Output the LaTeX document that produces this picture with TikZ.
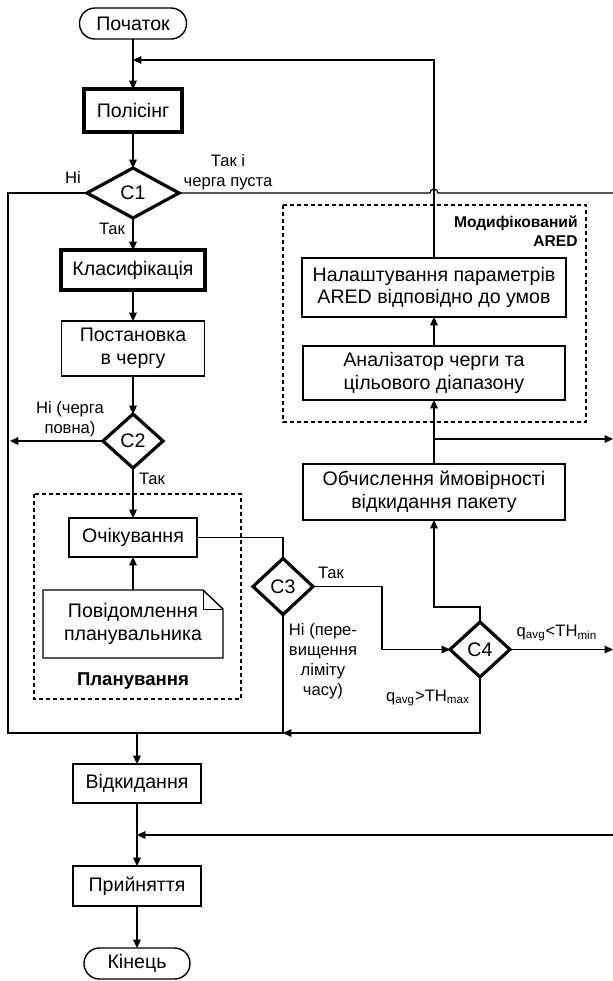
\documentclass[tikz,border=0pt]{standalone}
\usepackage{fontspec}
\setmainfont{Liberation Sans}
\usetikzlibrary{shapes.geometric,arrows.meta}
\tikzset{
  base/.style={font=\fontsize{9.8}{11.3}\selectfont, align=center, inner sep=0pt, outer sep=0pt},
  box/.style={base, draw, line width=0.7pt, rectangle},
  thickbox/.style={box, line width=1.6pt},
  term/.style={box, rounded corners=7.7pt},
  dec/.style={base, draw, diamond, line width=1.6pt},
  lab/.style={font=\fontsize{8.3}{9.9}\selectfont, align=center, inner sep=0pt},
  conn/.style={line width=0.8pt},
  thin/.style={line width=0.6pt},
  arr/.style={conn, -{Triangle[length=4.2pt,width=3.8pt]}},
  grp/.style={draw, line width=1.1pt, dash pattern=on 2.2pt off 1.3pt},
}
\begin{document}
\begin{tikzpicture}[x=0.5pt,y=-0.5pt]
\useasboundingbox (0,0) rectangle (613,981);

% group boxes
\draw[grp] (34,494) rectangle (241,699);
\draw[grp] (283,205) rectangle (586,422);

% nodes
\node[term, minimum width=53.5pt, minimum height=15.5pt] (start) at (133,23.5) {Початок};
\node[thickbox, minimum width=49pt, minimum height=21.5pt] (polic) at (133,110.5) {Полісінг};
\node[dec, minimum width=46pt, minimum height=25pt] (C1) at (133,193) {C1};
\node[thickbox, minimum width=72pt, minimum height=20pt] (klas) at (133,270) {Класифікація};
\node[box, minimum width=71.5pt, minimum height=27.5pt] (post) at (133,348.5) {Постановка\\в чергу};
\node[dec, minimum width=30pt, minimum height=27pt] (C2) at (133,441) {C2};
\node[box, minimum width=64pt, minimum height=19.5pt] (och) at (133,537.5) {Очікування};
\node[base, minimum width=90pt, minimum height=34pt] (pov) at (133,624) {Повідомлення\\планувальника};
\node[base, font=\fontsize{9.3}{11}\selectfont\bfseries] (planlab) at (133,681) {Планування};
\node[dec, minimum width=30pt, minimum height=28pt] (C3) at (283,586.5) {C3};
\node[dec, minimum width=30pt, minimum height=27.5pt] (C4) at (480,649.5) {C4};
\node[box, minimum width=132pt, minimum height=29.5pt] (nal) at (434,287.5) {Налаштування параметрів\\ARED відповідно до умов};
\node[box, minimum width=131pt, minimum height=27pt] (anal) at (434,373) {Аналізатор черги та\\цільового діапазону};
\node[box, minimum width=131pt, minimum height=28pt] (obch) at (434,492) {Обчислення ймовірності\\відкидання пакету};
\node[box, minimum width=64pt, minimum height=19.5pt] (vid) at (137,783.5) {Відкидання};
\node[box, minimum width=64pt, minimum height=20pt] (pryn) at (137,886) {Прийняття};
\node[term, minimum width=53pt, minimum height=15.5pt] (kin) at (137,963.5) {Кінець};

% document outline
\draw[line width=0.7pt] (pov.south west) -- (pov.north west) -- ([xshift=-10pt]pov.north east)
  -- ([yshift=-9.5pt]pov.north east) -- (pov.south east) -- cycle;
\draw[line width=0.5pt] ([xshift=-10pt]pov.north east) |- ([yshift=-9.5pt]pov.north east);

% labels
\node[lab] (l1) at (73,177) {Ні};
\node[lab] (l2) at (228,172) {Так і\\черга пуста};
\node[lab] (l3) at (112,229) {Так};
\node[lab] (l4) at (70,419) {Ні (черга\\повна)};
\node[lab] (l5) at (152,479) {Так};
\node[lab] (l6) at (331,573) {Так};
\node[lab] (l7) at (323,661) {Ні (пере-\\вищення\\ліміту\\часу)};
\node[lab] (l8) at (557,633) {q\textsubscript{avg}<TH\textsubscript{min}};
\node[lab] (l9) at (428,698) {q\textsubscript{avg}>TH\textsubscript{max}};
\node[lab, font=\fontsize{7.8}{9.5}\selectfont\bfseries, align=right, anchor=east] (l10) at (578,231.5) {Модифікований\\ARED};

% coordinates
\coordinate (j1) at (133,60);
\coordinate (e1) at (613,193);
\coordinate (b1) at (434,439);
\coordinate (e2) at (613,439);
\coordinate (e3) at (613,649.5);
\coordinate (m1) at (137,733);
\coordinate (c3b) at (283,733);
\coordinate (e4) at (613,835);
\coordinate (m2) at (137,835);
\coordinate (c2w) at (10,441);

% connectors
\draw[arr] (start) -- (polic);
\draw[arr, thin] (nal.north) -- (434,60) -- (j1);
\draw[arr] (polic) -- (C1);
\draw[thin] (C1.east) -- (430,193) arc (180:360:4) -- (e1);
\draw[arr] (C1) -- (klas);
\draw[arr] (klas) -- (post);
\draw[arr] (post) -- (C2);
\draw[arr] (C2.west) -- (c2w);
\draw[arr] (C2) -- (och);
\draw[arr] (pov) -- (och);
\draw[thin] (och.east) -| (C3.north);
\draw[arr] (C3.east) -- (382,586.5) |- (C4.west);
\draw[arr, thin] (C4.north) -- (480,607) -| (obch.south);
\draw[arr, thin] (C4.east) -- (e3);
\draw[arr] (obch) -- (anal);
\draw[arr, thin] (b1) -- (e2);
\draw[arr] (anal) -- (nal);
\draw[conn] (C1.west) -| (8,733) -- (m1);
\draw[conn] (C3.south) |- (m1);
\draw[arr, thin] (C4.south) |- (c3b);
\draw[arr] (m1) -- (vid.north);
\draw[arr] (vid) -- (pryn);
\draw[arr] (e4) -- (m2);
\draw[arr] (pryn) -- (kin);
\end{tikzpicture}
\end{document}
